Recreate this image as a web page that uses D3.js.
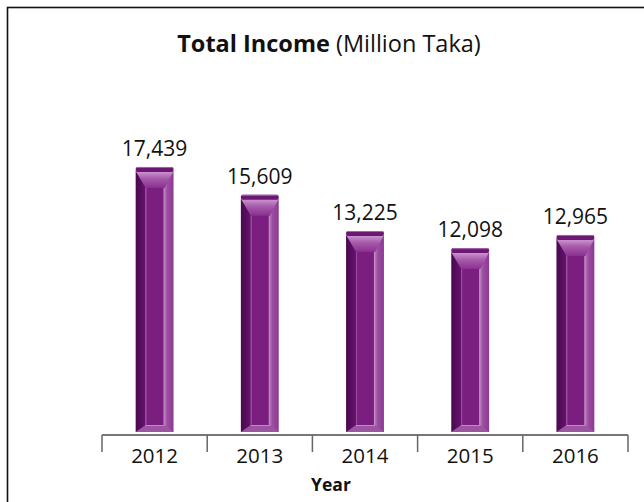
<!DOCTYPE html>
<html>
<head>
<meta charset="utf-8">
<script src="https://cdn.jsdelivr.net/npm/d3@7"></script>
<style>
  html, body { margin: 0; padding: 0; background: #fff; }
  svg { display: block; }
  text { font-family: "Open Sans", "Noto Sans", sans-serif; fill: #111; }
</style>
</head>
<body>
<svg id="chart" width="644" height="502"></svg>
<script>
// Total income per year (million Taka)
const years = ["2012", "2013", "2014", "2015", "2016"];
const income = [17439, 15609, 13225, 12098, 12965];
const valueLabels = ["17,439", "15,609", "13,225", "12,098", "12,965"];

const W = 644, H = 502;
const axisY = 435;
const plotLeft = 102, plotRight = 628;

const svg = d3.select("#chart");

// frame (continues past the right and bottom edges)
svg.append("rect")
  .attr("x", 7.5).attr("y", 7.5)
  .attr("width", 700).attr("height", 600)
  .attr("fill", "none").attr("stroke", "#111").attr("stroke-width", 1.6);

// title
const title = svg.append("text")
  .attr("x", 329).attr("y", 52)
  .attr("text-anchor", "middle")
  .style("font-size", "23.5px");
title.append("tspan").attr("font-weight", "bold").text("Total Income");
title.append("tspan").text(" (Million Taka)");

const x = d3.scaleBand()
  .domain(years)
  .range([plotLeft, plotRight])
  .paddingInner(0.64)
  .paddingOuter(0.32);

const y = d3.scaleLinear()
  .domain([0, 20000])
  .range([axisY - 3, axisY - 3 - 304]);

const data = years.map((yr, i) => ({ year: yr, value: income[i], label: valueLabels[i] }));

// gradients
const defs = svg.append("defs");
const topGrad = defs.append("linearGradient")
  .attr("id", "topBevel").attr("x1", 0).attr("y1", 0).attr("x2", 0).attr("y2", 1);
topGrad.append("stop").attr("offset", "0%").attr("stop-color", "#cf9ad2");
topGrad.append("stop").attr("offset", "45%").attr("stop-color", "#a75bab");
topGrad.append("stop").attr("offset", "100%").attr("stop-color", "#8a2f90");

const leftGrad = defs.append("linearGradient")
  .attr("id", "leftSide").attr("x1", 0).attr("y1", 0).attr("x2", 1).attr("y2", 0);
leftGrad.append("stop").attr("offset", "0%").attr("stop-color", "#4a0750");
leftGrad.append("stop").attr("offset", "100%").attr("stop-color", "#66146c");

const rightGrad = defs.append("linearGradient")
  .attr("id", "rightSide").attr("x1", 0).attr("y1", 0).attr("x2", 1).attr("y2", 0);
rightGrad.append("stop").attr("offset", "0%").attr("stop-color", "#b77bbb");
rightGrad.append("stop").attr("offset", "30%").attr("stop-color", "#9d4ea2");
rightGrad.append("stop").attr("offset", "100%").attr("stop-color", "#8a3a90");

const inL = 10, inR = 9, capH = 4, bevelTop = 17, bevelBot = 7;

const bars = svg.append("g").selectAll("g.bar")
  .data(data)
  .join("g")
  .attr("class", "bar");

bars.each(function (d) {
  const g = d3.select(this);
  const x0 = x(d.year), x1 = x0 + x.bandwidth();
  const top = y(d.value), bot = y(0);

  // left side
  g.append("rect")
    .attr("x", x0).attr("y", top + capH)
    .attr("width", inL).attr("height", bot - top - capH)
    .attr("fill", "url(#leftSide)");
  // right side
  g.append("rect")
    .attr("x", x1 - inR).attr("y", top + capH)
    .attr("width", inR).attr("height", bot - top - capH)
    .attr("fill", "url(#rightSide)");
  // front face
  g.append("rect")
    .attr("x", x0 + inL).attr("y", top + capH)
    .attr("width", x1 - inR - x0 - inL).attr("height", bot - top - capH)
    .attr("fill", "#7a1f80");
  // face edge highlights
  g.append("line")
    .attr("x1", x0 + inL + 0.5).attr("x2", x0 + inL + 0.5)
    .attr("y1", top + capH + bevelTop).attr("y2", bot - bevelBot)
    .attr("stroke", "#9a4ca0").attr("stroke-width", 1);
  g.append("line")
    .attr("x1", x1 - inR - 0.5).attr("x2", x1 - inR - 0.5)
    .attr("y1", top + capH + bevelTop).attr("y2", bot - bevelBot)
    .attr("stroke", "#c596c8").attr("stroke-width", 1);
  // top bevel
  g.append("polygon")
    .attr("points", [
      [x0, top + capH], [x1, top + capH],
      [x1 - inR, top + capH + bevelTop], [x0 + inL, top + capH + bevelTop]
    ].map(p => p.join(",")).join(" "))
    .attr("fill", "url(#topBevel)");
  // bottom bevel
  g.append("polygon")
    .attr("points", [
      [x0 + inL, bot - bevelBot], [x1 - inR, bot - bevelBot],
      [x1, bot], [x0, bot]
    ].map(p => p.join(",")).join(" "))
    .attr("fill", "#9c56a1");
  g.append("line")
    .attr("x1", x0 + inL).attr("x2", x1 - inR)
    .attr("y1", bot - bevelBot + 0.5).attr("y2", bot - bevelBot + 0.5)
    .attr("stroke", "#c08ac4").attr("stroke-width", 1);
  // cap
  g.append("rect")
    .attr("x", x0).attr("y", top)
    .attr("width", x1 - x0).attr("height", capH + 1)
    .attr("rx", 2)
    .attr("fill", "#6c1873");
  g.append("line")
    .attr("x1", x0 + 1).attr("x2", x1 - 1)
    .attr("y1", top + 0.5).attr("y2", top + 0.5)
    .attr("stroke", "#a867ad").attr("stroke-width", 1);

  // value label
  svg.append("text")
    .attr("x", x0 + x.bandwidth() / 2)
    .attr("y", top - 11)
    .attr("text-anchor", "middle")
    .style("font-size", "21px")
    .text(d.label);
});

// category axis
const axis = svg.append("g");
axis.append("line")
  .attr("x1", plotLeft).attr("x2", plotRight)
  .attr("y1", axisY).attr("y2", axisY)
  .attr("stroke", "#777").attr("stroke-width", 2);
const step = x.step();
axis.selectAll("line.tick")
  .data(d3.range(years.length + 1))
  .join("line")
  .attr("class", "tick")
  .attr("x1", i => plotLeft + i * step).attr("x2", i => plotLeft + i * step)
  .attr("y1", axisY).attr("y2", axisY + 17)
  .attr("stroke", "#666").attr("stroke-width", 1.5);
axis.selectAll("text.tickLabel")
  .data(years)
  .join("text")
  .attr("class", "tickLabel")
  .attr("x", d => x(d) + x.bandwidth() / 2)
  .attr("y", 463)
  .attr("text-anchor", "middle")
  .style("font-size", "20.5px")
  .text(d => d);

// axis title
svg.append("text")
  .attr("x", 331).attr("y", 491)
  .attr("text-anchor", "middle")
  .attr("font-weight", "bold")
  .style("font-size", "17.5px")
  .text("Year");
</script>
</body>
</html>
